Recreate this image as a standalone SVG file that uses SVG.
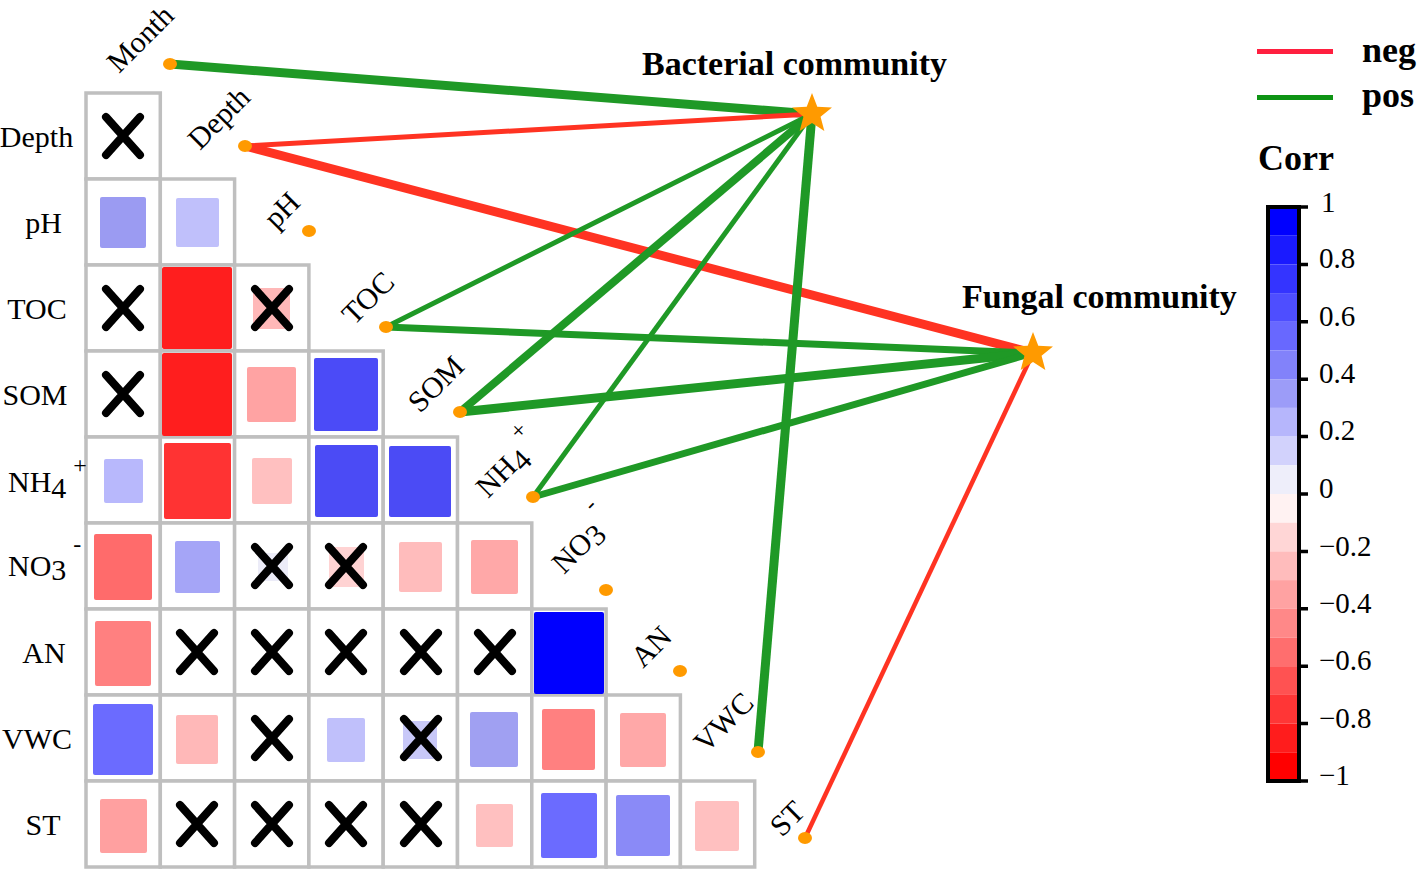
<svg xmlns="http://www.w3.org/2000/svg" width="1418" height="871" viewBox="0 0 1418 871">
<style>
text{font-family:"Liberation Serif","Times New Roman",serif;fill:#000}
.lab{font-size:30px}
.ttl{font-size:34px;font-weight:bold}
.leg{font-size:36px;font-weight:bold}
.tick{font-size:29px}
.cell{fill:#fff;stroke:#bfbfbf;stroke-width:3.5}
.x{stroke:#000;stroke-width:8;stroke-linecap:round;fill:none}
.pos{stroke:#1f9926;fill:none}
.neg{stroke:#ff3322;fill:none}
.dot{fill:#ff9a00}
.star{fill:#ff9a00}
</style>
<defs>
<g id="xm"><path class="x" d="M-17,-19L17,19M17,-19L-17,19"/></g>
<path id="st" d="M0,-21L5.29,-7.28L19.97,-6.49L8.56,2.78L12.34,16.99L0,9L-12.34,16.99L-8.56,2.78L-19.970,-6.49L-5.29,-7.28Z"/>
</defs>
<rect width="1418" height="871" fill="#fff"/>

<g id="grid">
<rect class="cell" x="86" y="93" width="74.3" height="86"/>
<rect class="cell" x="86" y="179" width="74.3" height="86"/><rect class="cell" x="160.3" y="179" width="74.3" height="86"/>
<rect class="cell" x="86" y="265" width="74.3" height="86"/><rect class="cell" x="160.3" y="265" width="74.3" height="86"/><rect class="cell" x="234.6" y="265" width="74.3" height="86"/>
<rect class="cell" x="86" y="351" width="74.3" height="86"/><rect class="cell" x="160.3" y="351" width="74.3" height="86"/><rect class="cell" x="234.6" y="351" width="74.3" height="86"/><rect class="cell" x="308.9" y="351" width="74.3" height="86"/>
<rect class="cell" x="86" y="437" width="74.3" height="86"/><rect class="cell" x="160.3" y="437" width="74.3" height="86"/><rect class="cell" x="234.6" y="437" width="74.3" height="86"/><rect class="cell" x="308.9" y="437" width="74.3" height="86"/><rect class="cell" x="383.2" y="437" width="74.3" height="86"/>
<rect class="cell" x="86" y="523" width="74.3" height="86"/><rect class="cell" x="160.3" y="523" width="74.3" height="86"/><rect class="cell" x="234.6" y="523" width="74.3" height="86"/><rect class="cell" x="308.9" y="523" width="74.3" height="86"/><rect class="cell" x="383.2" y="523" width="74.3" height="86"/><rect class="cell" x="457.5" y="523" width="74.3" height="86"/>
<rect class="cell" x="86" y="609" width="74.3" height="86"/><rect class="cell" x="160.3" y="609" width="74.3" height="86"/><rect class="cell" x="234.6" y="609" width="74.3" height="86"/><rect class="cell" x="308.9" y="609" width="74.3" height="86"/><rect class="cell" x="383.2" y="609" width="74.3" height="86"/><rect class="cell" x="457.5" y="609" width="74.3" height="86"/><rect class="cell" x="531.8" y="609" width="74.3" height="86"/>
<rect class="cell" x="86" y="695" width="74.3" height="86"/><rect class="cell" x="160.3" y="695" width="74.3" height="86"/><rect class="cell" x="234.6" y="695" width="74.3" height="86"/><rect class="cell" x="308.9" y="695" width="74.3" height="86"/><rect class="cell" x="383.2" y="695" width="74.3" height="86"/><rect class="cell" x="457.5" y="695" width="74.3" height="86"/><rect class="cell" x="531.8" y="695" width="74.3" height="86"/><rect class="cell" x="606.1" y="695" width="74.3" height="86"/>
<rect class="cell" x="86" y="781" width="74.3" height="86"/><rect class="cell" x="160.3" y="781" width="74.3" height="86"/><rect class="cell" x="234.6" y="781" width="74.3" height="86"/><rect class="cell" x="308.9" y="781" width="74.3" height="86"/><rect class="cell" x="383.2" y="781" width="74.3" height="86"/><rect class="cell" x="457.5" y="781" width="74.3" height="86"/><rect class="cell" x="531.8" y="781" width="74.3" height="86"/><rect class="cell" x="606.1" y="781" width="74.3" height="86"/><rect class="cell" x="680.4" y="781" width="74.3" height="86"/>
</g>

<g id="squares">
<rect x="100" y="197" width="46" height="51" rx="2" fill="#9b9bf2"/>
<rect x="176" y="198" width="43" height="49" rx="2" fill="#c0c0fb"/>
<rect x="162" y="267" width="70" height="82" rx="2" fill="#ff1e1e"/>
<rect x="253" y="288" width="37" height="41" rx="2" fill="#ffb8b8"/>
<rect x="162" y="353" width="70" height="83" rx="2" fill="#ff1e1e"/>
<rect x="247" y="367" width="49" height="55" rx="2" fill="#ffa3a3"/>
<rect x="314" y="358" width="64" height="73" rx="2" fill="#4b4bf7"/>
<rect x="104" y="459" width="39" height="44" rx="2" fill="#b8b8fc"/>
<rect x="164" y="443" width="67" height="76" rx="2" fill="#ff3333"/>
<rect x="252" y="458" width="40" height="46" rx="2" fill="#ffc0c0"/>
<rect x="315" y="445" width="63" height="72" rx="2" fill="#4b4bf5"/>
<rect x="389" y="446" width="62" height="71" rx="2" fill="#4b4bf5"/>
<rect x="94" y="534" width="58" height="66" rx="2" fill="#ff6b6b"/>
<rect x="175" y="541" width="45" height="52" rx="2" fill="#a5a5f7"/>
<rect x="258" y="553" width="30" height="28" rx="2" fill="#ececf8"/>
<rect x="329" y="547" width="35" height="40" rx="2" fill="#ffd3d3"/>
<rect x="399" y="542" width="43" height="50" rx="2" fill="#ffbcbc"/>
<rect x="471" y="540" width="47" height="54" rx="2" fill="#ffa8a8"/>
<rect x="95" y="621" width="56" height="65" rx="2" fill="#ff8080"/>
<rect x="534" y="612" width="70" height="82" rx="2" fill="#0000ff"/>
<rect x="93" y="704" width="60" height="71" rx="2" fill="#6b6bff"/>
<rect x="176" y="715" width="42" height="49" rx="2" fill="#ffb8b8"/>
<rect x="327" y="718" width="38" height="44" rx="2" fill="#c0c0fb"/>
<rect x="403" y="721" width="34" height="38" rx="2" fill="#c8c8f8"/>
<rect x="470" y="712" width="48" height="55" rx="2" fill="#a0a0f2"/>
<rect x="542" y="709" width="53" height="61" rx="2" fill="#ff8080"/>
<rect x="620" y="713" width="46" height="54" rx="2" fill="#ffa8a8"/>
<rect x="100" y="799" width="47" height="54" rx="2" fill="#ffa0a0"/>
<rect x="476" y="804" width="37" height="43" rx="2" fill="#ffc0c0"/>
<rect x="541" y="793" width="56" height="65" rx="2" fill="#6b6bff"/>
<rect x="616" y="795" width="54" height="61" rx="2" fill="#8a8af7"/>
<rect x="695" y="801" width="44" height="50" rx="2" fill="#ffc0c0"/>
</g>

<g id="crosses">
<use href="#xm" x="123" y="136"/>
<use href="#xm" x="123" y="308"/><use href="#xm" x="272" y="308"/>
<use href="#xm" x="123" y="394"/>
<use href="#xm" x="272" y="566"/><use href="#xm" x="346" y="566"/>
<use href="#xm" x="197" y="652"/><use href="#xm" x="272" y="652"/><use href="#xm" x="346" y="652"/><use href="#xm" x="421" y="652"/><use href="#xm" x="495" y="652"/>
<use href="#xm" x="272" y="738"/><use href="#xm" x="421" y="738"/>
<use href="#xm" x="197" y="824"/><use href="#xm" x="272" y="824"/><use href="#xm" x="346" y="824"/><use href="#xm" x="421" y="824"/>
</g>

<g id="row-labels">
<text class="lab" x="36.5" y="147" text-anchor="middle">Depth</text>
<text class="lab" x="43.5" y="233" text-anchor="middle">pH</text>
<text class="lab" x="37" y="319" text-anchor="middle">TOC</text>
<text class="lab" x="35" y="405" text-anchor="middle">SOM</text>
<text class="lab" x="8" y="492">NH<tspan dy="6">4</tspan><tspan dx="7" dy="-25" font-size="24">+</tspan></text>
<text class="lab" x="8" y="576">NO<tspan dy="4">3</tspan><tspan dx="7" dy="-28" font-size="24">-</tspan></text>
<text class="lab" x="44" y="663" text-anchor="middle">AN</text>
<text class="lab" x="37" y="749" text-anchor="middle">VWC</text>
<text class="lab" x="43" y="835" text-anchor="middle">ST</text>
</g>

<g id="connectors">
<line class="pos" x1="170" y1="64" x2="812" y2="114" stroke-width="9"/>
<line class="neg" x1="245" y1="146" x2="812" y2="114" stroke-width="5"/>
<line class="neg" x1="245" y1="146" x2="1033" y2="353" stroke-width="9"/>
<line class="pos" x1="386" y1="327" x2="812" y2="114" stroke-width="5"/>
<line class="pos" x1="386" y1="327" x2="1033" y2="353" stroke-width="7"/>
<line class="pos" x1="460" y1="412" x2="812" y2="114" stroke-width="8"/>
<line class="pos" x1="460" y1="412" x2="1033" y2="353" stroke-width="9"/>
<line class="pos" x1="533" y1="497" x2="812" y2="114" stroke-width="5"/>
<line class="pos" x1="533" y1="497" x2="1033" y2="353" stroke-width="7"/>
<line class="pos" x1="758" y1="752" x2="812" y2="114" stroke-width="9"/>
<line class="neg" x1="805" y1="838" x2="1033" y2="353" stroke-width="4.5"/>
</g>

<g id="variables">
<g id="v-month"><ellipse class="dot" cx="170" cy="64" rx="7" ry="6"/><text class="lab" transform="translate(119,74) rotate(-45)">Month</text></g>
<g id="v-depth"><ellipse class="dot" cx="245" cy="146" rx="7" ry="6"/><text class="lab" transform="translate(200,151) rotate(-45)">Depth</text></g>
<g id="v-ph"><ellipse class="dot" cx="309" cy="231" rx="7" ry="6"/><text class="lab" transform="translate(276,230) rotate(-45)">pH</text></g>
<g id="v-toc"><ellipse class="dot" cx="386" cy="327" rx="7" ry="6"/><text class="lab" transform="translate(354,326) rotate(-45)">TOC</text></g>
<g id="v-som"><ellipse class="dot" cx="460" cy="412" rx="7" ry="6"/><text class="lab" transform="translate(420,414) rotate(-45)">SOM</text></g>
<g id="v-nh4"><ellipse class="dot" cx="533" cy="497" rx="7" ry="6"/><text class="lab" transform="translate(488,499) rotate(-45)">NH<tspan dy="6">4</tspan><tspan dx="5" dy="-25" font-size="24">+</tspan></text></g>
<g id="v-no3"><ellipse class="dot" cx="606" cy="590" rx="7" ry="6"/><text class="lab" transform="translate(564,575) rotate(-45)">NO<tspan dy="4">3</tspan><tspan dx="6" dy="-28" font-size="24">-</tspan></text></g>
<g id="v-an"><ellipse class="dot" cx="680" cy="671" rx="7" ry="6"/><text class="lab" transform="translate(643,669) rotate(-45)">AN</text></g>
<g id="v-vwc"><ellipse class="dot" cx="758" cy="752" rx="7" ry="6"/><text class="lab" transform="translate(706,754) rotate(-45)">VWC</text></g>
<g id="v-st"><ellipse class="dot" cx="805" cy="838" rx="7" ry="6"/><text class="lab" transform="translate(782,838) rotate(-45)">ST</text></g>
</g>

<g id="bacterial">
<use href="#st" class="star" x="812" y="114"/>
<text class="ttl" x="642" y="75">Bacterial community</text>
</g>
<g id="fungal">
<use href="#st" class="star" x="1033" y="353"/>
<text class="ttl" x="962" y="308">Fungal community</text>
</g>

<g id="legend">
<line x1="1257" y1="51.5" x2="1333" y2="51.5" stroke="#ff1f3f" stroke-width="5"/>
<text class="leg" x="1362" y="62">neg</text>
<line x1="1257" y1="97.5" x2="1333" y2="97.5" stroke="#0e9414" stroke-width="5"/>
<text class="leg" x="1362" y="107">pos</text>
<text class="leg" x="1258" y="170">Corr</text>
</g>

<g id="colorbar">
<rect x="1268" y="207" width="31" height="28.7" fill="#0000ff"/>
<rect x="1268" y="235.7" width="31" height="28.7" fill="#1a1aff"/>
<rect x="1268" y="264.4" width="31" height="28.7" fill="#3434ff"/>
<rect x="1268" y="293.1" width="31" height="28.7" fill="#4e4eff"/>
<rect x="1268" y="321.8" width="31" height="28.7" fill="#6868ff"/>
<rect x="1268" y="350.5" width="31" height="28.7" fill="#8282fa"/>
<rect x="1268" y="379.2" width="31" height="28.7" fill="#9c9cf8"/>
<rect x="1268" y="407.9" width="31" height="28.7" fill="#b6b6fc"/>
<rect x="1268" y="436.6" width="31" height="28.7" fill="#d2d2fc"/>
<rect x="1268" y="465.3" width="31" height="28.7" fill="#eeeefa"/>
<rect x="1268" y="494" width="31" height="28.7" fill="#fff2f2"/>
<rect x="1268" y="522.7" width="31" height="28.7" fill="#ffd6d6"/>
<rect x="1268" y="551.4" width="31" height="28.7" fill="#ffbcbc"/>
<rect x="1268" y="580.1" width="31" height="28.7" fill="#ffa2a2"/>
<rect x="1268" y="608.8" width="31" height="28.7" fill="#ff8888"/>
<rect x="1268" y="637.5" width="31" height="28.7" fill="#ff6e6e"/>
<rect x="1268" y="666.2" width="31" height="28.7" fill="#ff5252"/>
<rect x="1268" y="694.9" width="31" height="28.7" fill="#ff3636"/>
<rect x="1268" y="723.6" width="31" height="28.7" fill="#ff1c1c"/>
<rect x="1268" y="752.3" width="31" height="28.7" fill="#ff0000"/>
<rect x="1268" y="207" width="31" height="574" fill="none" stroke="#000" stroke-width="4"/>
<path d="M1299,207H1308M1299,264.4H1308M1299,321.8H1308M1299,379.2H1308M1299,436.6H1308M1299,494H1308M1299,551.4H1308M1299,608.8H1308M1299,666.2H1308M1299,723.6H1308M1299,781H1308" stroke="#000" stroke-width="3.5"/>
<text class="tick" x="1321" y="212">1</text>
<text class="tick" x="1319" y="268">0.8</text>
<text class="tick" x="1319" y="326">0.6</text>
<text class="tick" x="1319" y="383">0.4</text>
<text class="tick" x="1319" y="440">0.2</text>
<text class="tick" x="1319" y="498">0</text>
<text class="tick" x="1319" y="556">−0.2</text>
<text class="tick" x="1319" y="613">−0.4</text>
<text class="tick" x="1319" y="670">−0.6</text>
<text class="tick" x="1319" y="728">−0.8</text>
<text class="tick" x="1319" y="785">−1</text>
</g>
</svg>
